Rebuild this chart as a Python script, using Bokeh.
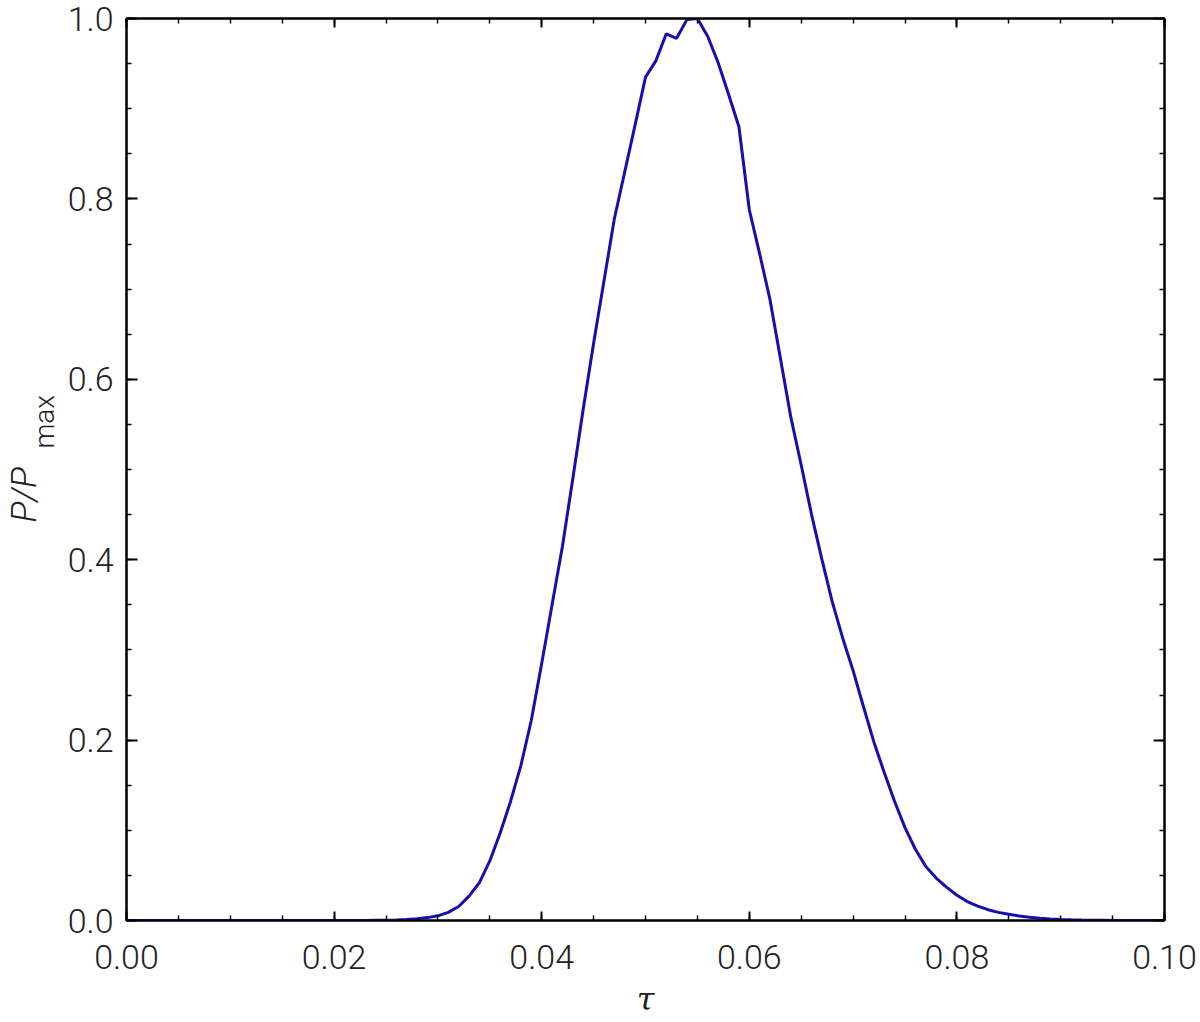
from bokeh.plotting import figure
from bokeh.models import (Range1d, LinearAxis, SingleIntervalTicker,
                          NumeralTickFormatter, CustomJSTickFormatter)
from bokeh.embed import file_html
from bokeh.resources import INLINE

# ---- data ----
tau = [0.000, 0.001, 0.002, 0.003, 0.004, 0.005, 0.006, 0.007, 0.008, 0.009,
       0.010, 0.011, 0.012, 0.013, 0.014, 0.015, 0.016, 0.017, 0.018, 0.019,
       0.020, 0.021, 0.022, 0.023, 0.024, 0.025, 0.026, 0.027, 0.028, 0.029,
       0.030, 0.031, 0.032, 0.033, 0.034, 0.035, 0.036, 0.037, 0.038, 0.039,
       0.040, 0.041, 0.042, 0.043, 0.044, 0.045, 0.046, 0.047, 0.048, 0.049,
       0.050, 0.051, 0.052, 0.053, 0.054, 0.055, 0.056, 0.057, 0.058, 0.059,
       0.060, 0.061, 0.062, 0.063, 0.064, 0.065, 0.066, 0.067, 0.068, 0.069,
       0.070, 0.071, 0.072, 0.073, 0.074, 0.075, 0.076, 0.077, 0.078, 0.079,
       0.080, 0.081, 0.082, 0.083, 0.084, 0.085, 0.086, 0.087, 0.088, 0.089,
       0.090, 0.091, 0.092, 0.093, 0.094, 0.095, 0.096, 0.097, 0.098, 0.099,
       0.100]

p_rel = [0.0, 0.0, 0.0, 0.0, 0.0, 0.0, 0.0, 0.0, 0.0, 0.0,
         0.0, 0.0, 0.0, 0.0, 0.0, 0.0, 0.0, 0.0, 0.0, 0.0,
         0.0, 0.0, 0.0001, 0.0001, 0.0002, 0.0003, 0.0006, 0.0011, 0.0019, 0.0032,
         0.0052, 0.0090, 0.0155, 0.0270, 0.0420, 0.0660, 0.0970, 0.1320, 0.1720, 0.2220,
         0.2850, 0.3500, 0.4150, 0.4900, 0.5670, 0.6400, 0.7090, 0.7780, 0.8300, 0.8820,
         0.9350, 0.9530, 0.9830, 0.9780, 0.9990, 1.0000, 0.9800, 0.9510, 0.9160, 0.8800,
         0.7880, 0.7390, 0.6880, 0.6230, 0.5580, 0.5050, 0.4500, 0.4000, 0.3530, 0.3130,
         0.2770, 0.2370, 0.1980, 0.1640, 0.1320, 0.1030, 0.0790, 0.0600, 0.0470, 0.0370,
         0.0280, 0.0210, 0.0160, 0.0120, 0.0090, 0.0070, 0.0050, 0.0035, 0.0025, 0.0018,
         0.0012, 0.0008, 0.0005, 0.0003, 0.0002, 0.0001, 0.0001, 0.0, 0.0, 0.0,
         0.0]

x_major_step = 0.02
y_major_step = 0.2

TICK_FONT = "Roboto Light, Roboto, sans-serif"
TEXT_COLOR = "#222222"
NBSP = "\u00a0"

p = figure(width=1198, height=1020,
           x_range=Range1d(0.0, 0.1), y_range=Range1d(0.0, 1.0),
           output_backend="svg", toolbar_location=None,
           x_axis_location=None, y_axis_location=None,
           min_border_left=123, min_border_right=34,
           min_border_top=18, min_border_bottom=90)
p.grid.visible = False
p.outline_line_color = "black"
p.outline_line_width = 2
p.background_fill_color = "white"
p.border_fill_color = "white"


def make_axis(step, fmt, show_labels, tick_len):
    ax = LinearAxis(ticker=SingleIntervalTicker(interval=step, num_minor_ticks=4))
    if show_labels:
        ax.formatter = NumeralTickFormatter(format=fmt)
    else:
        ax.formatter = CustomJSTickFormatter(code="return ''")
    ax.axis_line_color = "black"
    ax.axis_line_width = 2
    ax.major_tick_in = tick_len
    ax.major_tick_out = 0
    ax.minor_tick_in = 5
    ax.minor_tick_out = 0
    ax.major_tick_line_width = 2
    ax.minor_tick_line_width = 1.5
    ax.major_tick_line_color = "black"
    ax.minor_tick_line_color = "black"
    ax.major_label_text_font = TICK_FONT
    ax.major_label_text_font_size = "34px"
    ax.major_label_text_color = TEXT_COLOR
    return ax


xb = make_axis(x_major_step, "0.00", True, 9)
xb.major_label_standoff = 24
xb.axis_label = "τ"
xb.axis_label_text_font = "DejaVu Serif"
xb.axis_label_text_font_style = "italic"
xb.axis_label_text_font_size = "32px"
xb.axis_label_text_color = TEXT_COLOR
xb.axis_label_standoff = 8
p.add_layout(xb, "below")

xt = make_axis(x_major_step, "0.00", False, 9)
p.add_layout(xt, "above")

# left axis: tick labels + the subscript "max" of the title (nearer the frame)
yl = make_axis(y_major_step, "0.0", True, 11)
yl.major_label_standoff = 13
yl.axis_label = NBSP * 14 + "max"
yl.axis_label_text_font = TICK_FONT
yl.axis_label_text_font_size = "28px"
yl.axis_label_text_font_style = "normal"
yl.axis_label_text_color = TEXT_COLOR
yl.axis_label_standoff = 4
p.add_layout(yl, "left")

# outer left axis carrying only the italic "P/P" part of the title
ytitle = LinearAxis(ticker=SingleIntervalTicker(interval=y_major_step, num_minor_ticks=0),
                    formatter=CustomJSTickFormatter(code="return ''"))
ytitle.axis_line_color = None
ytitle.major_tick_line_color = None
ytitle.minor_tick_line_color = None
ytitle.major_tick_in = 0
ytitle.major_tick_out = 0
ytitle.minor_tick_in = 0
ytitle.minor_tick_out = 0
ytitle.major_label_standoff = 0
ytitle.major_label_text_font_size = "1px"
ytitle.axis_label = "P/P" + NBSP * 6
ytitle.axis_label_text_font = TICK_FONT
ytitle.axis_label_text_font_size = "35px"
ytitle.axis_label_text_font_style = "italic"
ytitle.axis_label_text_color = TEXT_COLOR
ytitle.axis_label_standoff = -20
p.add_layout(ytitle, "left")

yr = make_axis(y_major_step, "0.0", False, 11)
p.add_layout(yr, "right")

p.line(tau, p_rel, line_color="#1510ad", line_width=3)

open("out.html", "w").write(file_html(p, INLINE))
